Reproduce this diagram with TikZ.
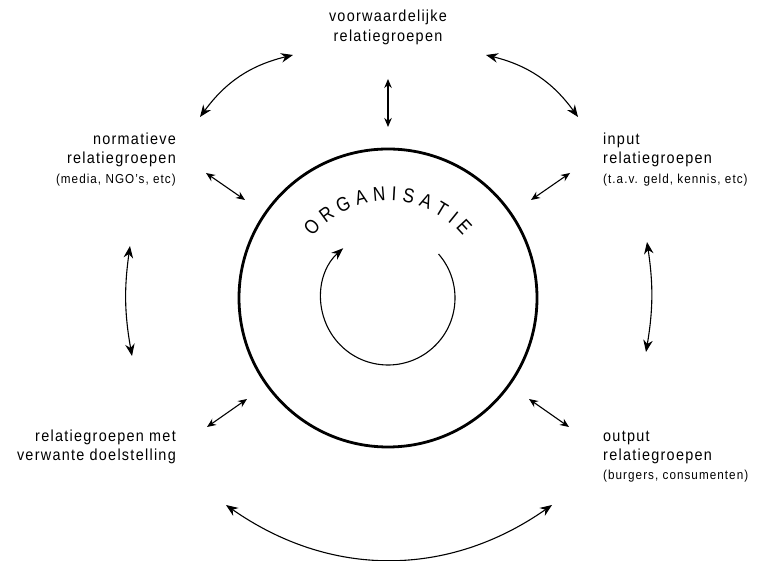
\documentclass[tikz,border=0pt]{standalone}
\usepackage{fontspec}
\setmainfont{Liberation Sans}[FakeStretch=0.9,LetterSpace=8]
\newfontfamily\ltrfont{Liberation Sans}[FakeStretch=0.85]
\usetikzlibrary{arrows.meta}
\begin{document}
\begin{tikzpicture}[x=1pt,y=1pt,
  lab/.style={inner sep=0pt, font=\fontsize{16}{19}\selectfont},
  sm/.style={inner sep=0pt, font=\fontsize{13}{15}\selectfont},
  ltr/.style={inner sep=0pt, font=\ltrfont\fontsize{20}{22}\selectfont},
  dbl/.style={{Stealth[length=12pt,width=9.5pt]}-{Stealth[length=12pt,width=9.5pt]}, line width=1.1pt},
  dbls/.style={{Stealth[length=9pt,width=7.5pt]}-{Stealth[length=9pt,width=7.5pt]}, line width=1.1pt}]
\useasboundingbox (0,0) rectangle (767,561);
% central circle
\node[circle, draw, line width=2.8pt, minimum size=298pt, inner sep=0pt] (org) at (388,263) {};
% inner cycle arrow
\coordinate (cyc) at ({388+67*cos(41)},{263+67*sin(41)});
\draw[line width=1.1pt, -{Stealth[length=12pt,width=9pt]}] (cyc) arc[start angle=41, end angle=-228, radius=67];
% ORGANISATIE
\foreach \c/\ang [count=\i] in {O/137,R/126.3,G/115.6,A/105.1,N/94.9,I/86.6,S/78.5,A/68.5,T/58.9,I/51.0,E/42.9}{
  \node[ltr, rotate=\ang-90] (l\i) at ({388+104*cos(\ang)},{263+104*sin(\ang)}) {\c};
}
% labels
\node[lab, anchor=base] (top1) at (388,539) {voorwaardelijke};
\node[lab, anchor=base] (top2) at (388,519) {relatiegroepen};
\node[lab, anchor=base east] (nor1) at (176,416) {normatieve};
\node[lab, anchor=base east] (nor2) at (176,397) {relatiegroepen};
\node[sm, anchor=base east] (nor3) at (176,377) {(media, NGO’s, etc)};
\node[lab, anchor=base west] (inp1) at (603,416) {input};
\node[lab, anchor=base west] (inp2) at (603,397) {relatiegroepen};
\node[sm, anchor=base west] (inp3) at (603,377) {(t.a.v. geld, kennis, etc)};
\node[lab, anchor=base east] (met1) at (176,119) {relatiegroepen met};
\node[lab, anchor=base east] (met2) at (176,100) {verwante doelstelling};
\node[lab, anchor=base west] (out1) at (603,119) {output};
\node[lab, anchor=base west] (out2) at (603,100) {relatiegroepen};
\node[sm, anchor=base west] (out3) at (603,81) {(burgers, consumenten)};
% arrow end points
\coordinate (tla) at (293,506); \coordinate (tlb) at (200,444);
\coordinate (tra) at (486,506); \coordinate (trb) at (578,444);
\coordinate (va) at (388,482);  \coordinate (vb) at (388,434);
\coordinate (sla) at (206,388); \coordinate (slb) at (245,361);
\coordinate (sra) at (570,388); \coordinate (srb) at (531,361);
\coordinate (bla) at (207,134); \coordinate (blb) at (247,162);
\coordinate (bra) at (569,134); \coordinate (brb) at (529,162);
\coordinate (lsa) at (130,315); \coordinate (lsb) at (132,205);
\coordinate (rsa) at (647,319); \coordinate (rsb) at (646,209);
\coordinate (bta) at (226,56);  \coordinate (btb) at (552,56);
% connectors
\draw[dbl] (tla) to[bend right=20] (tlb);
\draw[dbl] (tra) to[bend left=20] (trb);
\draw[dbls] (va) -- (vb);
\draw[dbls] (sla) -- (slb);
\draw[dbls] (sra) -- (srb);
\draw[dbls] (bla) -- (blb);
\draw[dbls] (bra) -- (brb);
\draw[dbl] (lsa) to[bend right=9] (lsb);
\draw[dbl] (rsa) to[bend left=9] (rsb);
\draw[dbl] (bta) to[bend right=35] (btb);
\end{tikzpicture}
\end{document}
